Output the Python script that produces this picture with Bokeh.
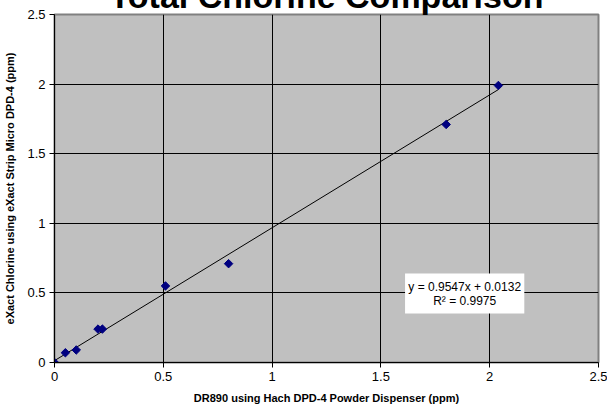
import math
from bokeh.plotting import figure
from bokeh.models import Label, BoxAnnotation, FixedTicker, Range1d
from bokeh.embed import file_html
from bokeh.resources import INLINE

# Data
dr890_ppm = [0.0, 0.05, 0.10, 0.20, 0.22, 0.51, 0.80, 1.80, 2.04]
exact_ppm = [0.0, 0.07, 0.09, 0.24, 0.24, 0.55, 0.71, 1.71, 1.99]
slope = 0.9547
intercept = 0.0132
r_squared = 0.9975
tick_values = [0, 0.5, 1, 1.5, 2, 2.5]
tick_labels = {0: "0", 0.5: "0.5", 1: "1", 1.5: "1.5", 2: "2", 2.5: "2.5"}

FONT = "Liberation Sans"

p = figure(frame_width=544, frame_height=348, output_backend="svg", toolbar_location=None,
           x_range=Range1d(0, 2.5), y_range=Range1d(0, 2.5),
           title="Total Chlorine Comparison",
           min_border_left=54, min_border_right=9, min_border_top=0, min_border_bottom=45)

p.title.text_font = FONT
p.title.text_font_size = "34px"
p.title.text_font_style = "bold"
p.title.text_color = "black"
p.title.align = "center"
p.title.standoff = 0
# The reference cuts the title at the top edge: lift the whole figure.
p.styles = {"margin-top": "-26px"}

p.border_fill_color = "white"
p.background_fill_color = "#C0C0C0"
p.outline_line_color = "#808080"
p.outline_line_width = 2

for ax in (p.xaxis[0], p.yaxis[0]):
    ax.ticker = FixedTicker(ticks=tick_values)
    ax.major_label_overrides = tick_labels
    ax.major_tick_out = 5
    ax.major_tick_in = 0
    ax.minor_tick_line_color = None
    ax.axis_line_color = "black"
    ax.major_tick_line_color = "black"
    ax.major_label_text_font = FONT
    ax.major_label_text_font_size = "13px"
    ax.major_label_text_color = "black"
    ax.axis_label_text_font = FONT
    ax.axis_label_text_font_size = "11px"
    ax.axis_label_text_font_style = "bold"
    ax.axis_label_text_color = "black"

p.xaxis.axis_label = "DR890 using Hach DPD-4 Powder Dispenser (ppm)"
p.yaxis.axis_label = "eXact Chlorine using eXact Strip Micro DPD-4 (ppm)"
p.xaxis.major_label_standoff = 4
p.yaxis.major_label_standoff = 4
p.xaxis.axis_label_standoff = 8
p.yaxis.axis_label_standoff = 8

p.grid.ticker = FixedTicker(ticks=tick_values)
p.grid.grid_line_color = "black"
p.grid.grid_line_width = 1

# Trendline
x_end = max(dr890_ppm)
p.line([0, x_end], [intercept, slope * x_end + intercept], line_color="black", line_width=1)

# Points (diamonds)
p.scatter(dr890_ppm, exact_ppm, marker="square", angle=math.pi / 4, size=6,
          fill_color="#000080", line_color="#000080")

# Equation box
p.add_layout(BoxAnnotation(left=1.611, right=2.159, bottom=0.352, top=0.639,
                           fill_color="white", fill_alpha=1, line_color=None))
p.add_layout(Label(x=1.885, y=0.545, text=f"y = {slope}x + {intercept}", text_align="center",
                   text_baseline="middle", text_font=FONT, text_font_size="12px",
                   text_color="black"))
p.add_layout(Label(x=1.885, y=0.44, text=f"R\u00b2 = {r_squared}", text_align="center",
                   text_baseline="middle", text_font=FONT, text_font_size="12px",
                   text_color="black"))

open("out.html", "w").write(file_html(p, INLINE))
